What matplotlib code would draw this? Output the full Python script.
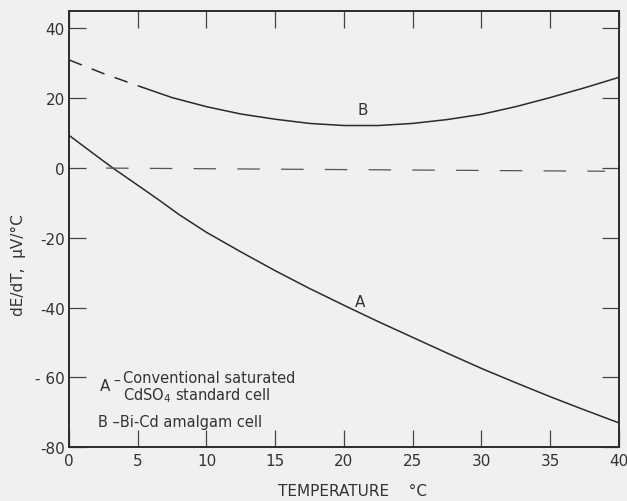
import numpy as np
import matplotlib
matplotlib.use('Agg')
import matplotlib.pyplot as plt

# Curve A: conventional saturated CdSO4 standard cell
a_temp = [0, 2, 3.2, 5, 6.6, 8, 10, 12.5, 15, 17.5, 20, 22.5, 25, 27.5, 30, 32.5, 35, 37.5, 40]
a_dedt = [9.4, 3.5, 0.0, -4.9, -9.3, -13.3, -18.4, -24.0, -29.4, -34.5, -39.3, -44.0, -48.5, -53.0,
          -57.4, -61.5, -65.5, -69.3, -73.0]

# Curve B: Bi-Cd amalgam cell (dashed = extrapolated part)
b_temp_dash = [0, 2.5, 5.3]
b_dedt_dash = [31.0, 27.1, 23.2]
b_temp = [5.3, 7.5, 10, 12.5, 15, 17.5, 20, 22.5, 25, 27.5, 30, 32.5, 35, 37.5, 40]
b_dedt = [23.2, 20.2, 17.6, 15.5, 14.0, 12.8, 12.2, 12.2, 12.8, 13.9, 15.4, 17.6, 20.2, 23.0, 26.0]

# near-zero reference line
zero_temp = [2.7, 39.0]
zero_dedt = [0.0, -0.9]

x_ticks = [0, 5, 10, 15, 20, 25, 30, 35, 40]
x_ticklabels = ['0', '5', '10', '15', '20', '25', '30', '35', '40']
y_ticks = [-80, -60, -40, -20, 0, 20, 40]
y_ticklabels = ['-80', '- 60', '-40', '-20', '0', '20', '40']

bg = '#f0f0f0'
ink = '#2b2b2b'

fig = plt.figure(figsize=(6.27, 5.02), dpi=100, facecolor=bg)
ax = fig.add_axes([0.110, 0.107, 0.877, 0.869], facecolor=bg)

ax.plot(a_temp, a_dedt, color=ink, lw=1.1)
ax.plot(b_temp, b_dedt, color=ink, lw=1.1)
ax.plot(b_temp_dash, b_dedt_dash, color=ink, lw=1.1, dashes=(9, 7))
ax.plot(zero_temp, zero_dedt, color='#555555', lw=0.9, dashes=(18, 17))

ax.set_xlim(0, 40)
ax.set_ylim(-80, 45)
ax.set_xticks(x_ticks)
ax.set_xticklabels(x_ticklabels)
ax.set_yticks(y_ticks)
ax.set_yticklabels(y_ticklabels)
ax.tick_params(direction='in', length=12, width=0.9, color='#444444', labelsize=11,
               labelcolor='#333333', top=True, right=True, pad=3)
ax.tick_params(axis='x', pad=4)
for s in ax.spines.values():
    s.set_linewidth(1.4)
    s.set_color(ink)

ax.text(21.4, 16.9, 'B', fontsize=11, color='#333333', ha='center', va='center')
ax.text(21.2, -38.1, 'A', fontsize=11, color='#333333', ha='center', va='center')

ax.text(2.6, -62.2, 'A', fontsize=11, color='#333333', ha='center', va='center')
ax.text(3.5, -60.9, '\u2013', fontsize=10, color='#333333', ha='center', va='center')
ax.text(3.95, -59.9, 'Conventional saturated', fontsize=10.5, color='#333333', ha='left', va='center')
ax.text(3.95, -65.0, 'CdSO$_4$ standard cell', fontsize=10.5, color='#333333', ha='left', va='center')
ax.text(2.1, -72.5, 'B \u2013Bi-Cd amalgam cell', fontsize=10.5, color='#333333', ha='left', va='center')

fig.text(18 / 627, 1 - 265 / 502, 'dE/dT,  \u03bcV/\u00b0C', rotation=90, fontsize=11,
         color='#333333', ha='center', va='center')
fig.text(353 / 627, 1 - 492 / 502, 'TEMPERATURE    \u00b0C', fontsize=11,
         color='#333333', ha='center', va='center')

fig.savefig('out.png', dpi=100, facecolor=bg)
